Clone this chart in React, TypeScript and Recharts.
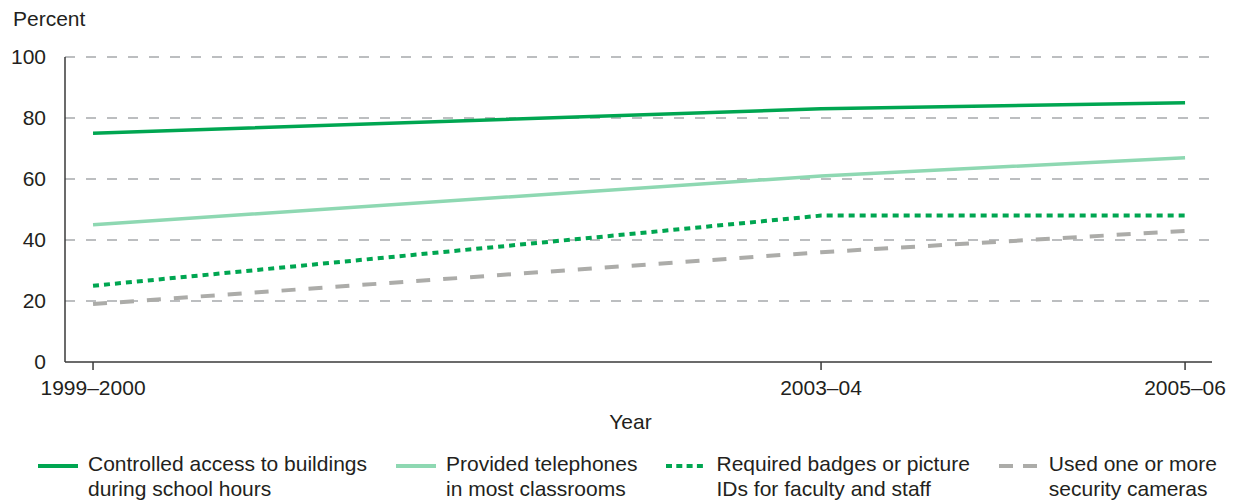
import React from "react";
import { LineChart, Line, XAxis, YAxis, CartesianGrid, Label } from "recharts";

const years = [1999, 2003, 2005];
const yearLabels = ["1999–2000", "2003–04", "2005–06"];
const controlledAccess = [75, 83, 85];
const telephones = [45, 61, 67];
const badges = [25, 48, 48];
const cameras = [19, 36, 43];
const yTicks = [0, 20, 40, 60, 80, 100];

const series = [
  { key: "controlled", values: controlledAccess, name: ["Controlled access to buildings", "during school hours"], color: "#00a651", width: 3.5, dash: undefined as string | undefined, legendDash: undefined as string | undefined },
  { key: "phones", values: telephones, name: ["Provided telephones", "in most classrooms"], color: "#8ed8b2", width: 3.5, dash: undefined as string | undefined, legendDash: undefined as string | undefined },
  { key: "badges", values: badges, name: ["Required badges or picture", "IDs for faculty and staff"], color: "#00a651", width: 4, dash: "6 5", legendDash: "6 4.3" },
  { key: "cameras", values: cameras, name: ["Used one or more", "security cameras"], color: "#acaca9", width: 4, dash: "14 13", legendDash: "14 10" },
];

const data = years.map((y, i) => {
  const row: Record<string, number> = { year: y };
  series.forEach((s) => (row[s.key] = s.values[i]));
  return row;
});

const FONT = "'Liberation Sans', Arial, Helvetica, sans-serif";
const TEXT = "#231f20";
const FS = 21;

export default function App() {
  return (
    <div style={{ position: "absolute", left: 0, top: 0, width: 1234, height: 503, background: "#fff", fontFamily: FONT }}>
      <LineChart width={1234} height={503} data={data} margin={{ top: 57, right: 22, bottom: 81, left: 0 }}>
        <CartesianGrid vertical={false} stroke="#a7a9ac" strokeWidth={1.3} strokeDasharray="10 11" horizontalValues={[20, 40, 60, 80, 100]} />
        <XAxis
          dataKey="year"
          type="number"
          domain={[1998.846, 2005.148]}
          ticks={years}
          tickFormatter={(v: number) => yearLabels[years.indexOf(v)]}
          height={60}
          tickSize={8}
          tickMargin={10}
          axisLine={{ stroke: "#3a3a3a", strokeWidth: 1.5 }}
          tickLine={{ stroke: "#3a3a3a", strokeWidth: 1.5 }}
          tick={{ fill: TEXT, fontSize: FS, fontFamily: FONT }}
          interval={0}
        >
          <Label value="Year" position="bottom" offset={-8} dx={-8} fill={TEXT} fontSize={FS} fontFamily={FONT} />
        </XAxis>
        <YAxis
          domain={[0, 100]}
          ticks={yTicks}
          width={65}
          tickSize={0}
          tickMargin={19}
          tickLine={false}
          axisLine={{ stroke: "#3a3a3a", strokeWidth: 1.5 }}
          tick={{ fill: TEXT, fontSize: FS, fontFamily: FONT }}
        />
        {series.map((s) => (
          <Line
            key={s.key}
            dataKey={s.key}
            type="linear"
            stroke={s.color}
            strokeWidth={s.width}
            strokeDasharray={s.dash}
            dot={false}
            activeDot={false}
            isAnimationActive={false}
          />
        ))}
      </LineChart>
      <div style={{ position: "absolute", left: 13, top: 7, fontSize: FS, color: TEXT }}>Percent</div>
      <div style={{ position: "absolute", left: 38, top: 451, display: "flex", gap: 29, fontSize: FS, color: TEXT, lineHeight: "25px" }}>
        {series.map((s) => (
          <div key={s.key} style={{ display: "flex", alignItems: "flex-start" }}>
            <svg width={40} height={25} style={{ marginRight: 10, flex: "none" }}>
              <line x1={0} y1={15} x2={40} y2={15} stroke={s.color} strokeWidth={4} strokeDasharray={s.legendDash} />
            </svg>
            <div style={{ whiteSpace: "nowrap" }}>
              <div>{s.name[0]}</div>
              <div>{s.name[1]}</div>
            </div>
          </div>
        ))}
      </div>
    </div>
  );
}
